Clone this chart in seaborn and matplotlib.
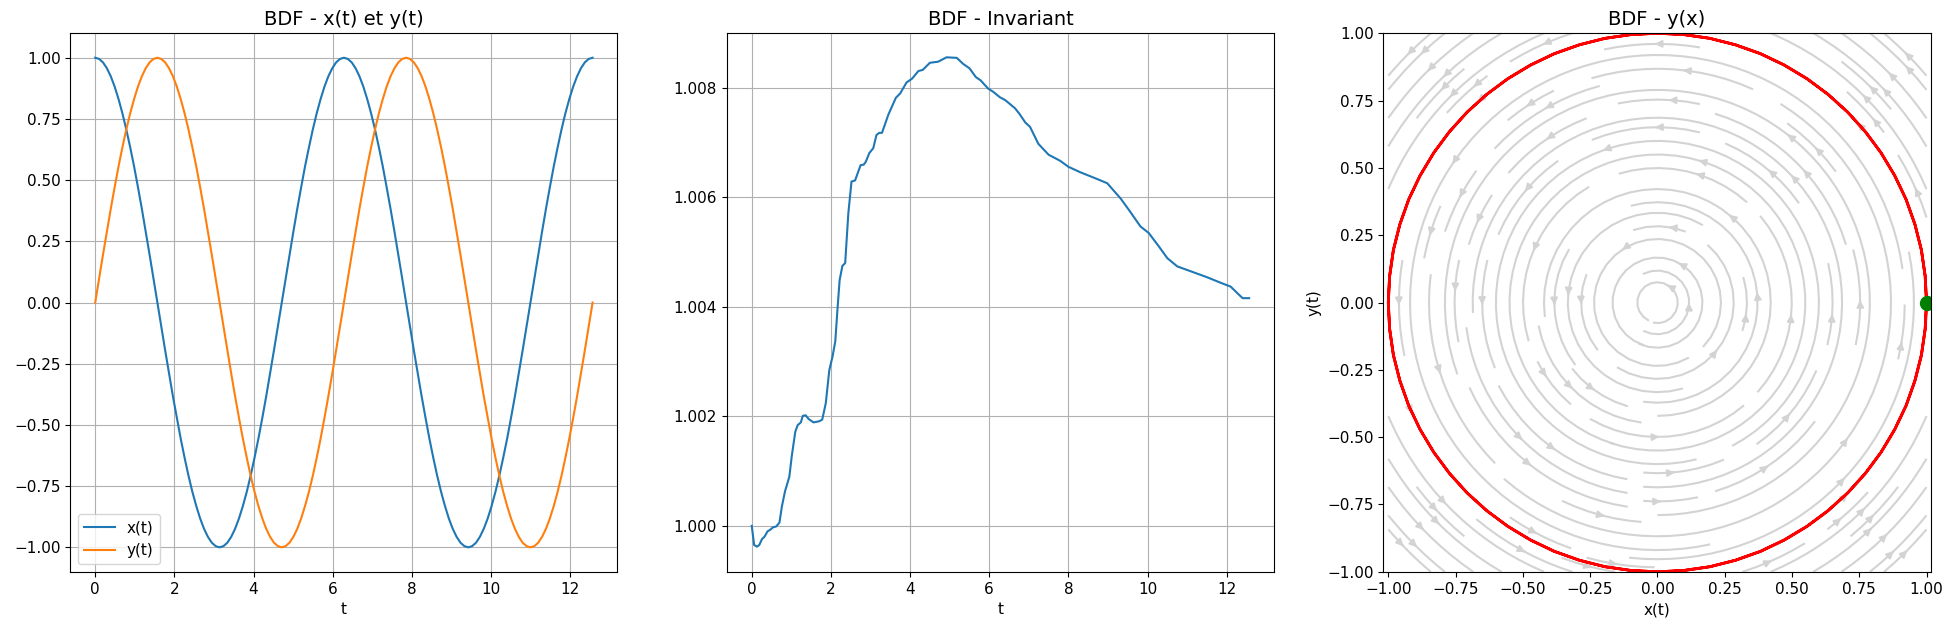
import numpy as np
import seaborn as sns
import matplotlib
matplotlib.use("Agg")
import matplotlib.pyplot as plt

# solution BDF : temps, x(t), y(t)
t_vals = [0.000, 0.098, 0.196, 0.295, 0.393, 0.491, 0.589, 0.687, 0.785, 0.884, 0.982, 1.080,
          1.178, 1.276, 1.374, 1.473, 1.571, 1.669, 1.767, 1.865, 1.963, 2.062, 2.160, 2.258,
          2.356, 2.454, 2.553, 2.651, 2.749, 2.847, 2.945, 3.043, 3.142, 3.240, 3.338, 3.436,
          3.534, 3.632, 3.731, 3.829, 3.927, 4.025, 4.123, 4.222, 4.320, 4.418, 4.516, 4.614,
          4.712, 4.811, 4.909, 5.007, 5.105, 5.203, 5.301, 5.400, 5.498, 5.596, 5.694, 5.792,
          5.890, 5.989, 6.087, 6.185, 6.283, 6.381, 6.480, 6.578, 6.676, 6.774, 6.872, 6.970,
          7.069, 7.167, 7.265, 7.363, 7.461, 7.560, 7.658, 7.756, 7.854, 7.952, 8.050, 8.149,
          8.247, 8.345, 8.443, 8.541, 8.639, 8.738, 8.836, 8.934, 9.032, 9.130, 9.228, 9.327,
          9.425, 9.523, 9.621, 9.719, 9.817, 9.916, 10.014, 10.112, 10.210, 10.308, 10.407,
          10.505, 10.603, 10.701, 10.799, 10.897, 10.996, 11.094, 11.192, 11.290, 11.388,
          11.486, 11.585, 11.683, 11.781, 11.879, 11.977, 12.076, 12.174, 12.272, 12.370,
          12.468, 12.566]
x_vals = [1.0, 0.995, 0.981, 0.957, 0.924, 0.882, 0.831, 0.773, 0.707, 0.634, 0.556, 0.471,
          0.383, 0.290, 0.195, 0.098, 0.0, -0.098, -0.195, -0.290, -0.383, -0.471, -0.556,
          -0.634, -0.707, -0.773, -0.831, -0.882, -0.924, -0.957, -0.981, -0.995,
          -1.0, -0.995, -0.981, -0.957, -0.924, -0.882, -0.831, -0.773, -0.707, -0.634, -0.556,
          -0.471, -0.383, -0.290, -0.195, -0.098, 0.0, 0.098, 0.195, 0.290, 0.383, 0.471,
          0.556, 0.634, 0.707, 0.773, 0.831, 0.882, 0.924, 0.957, 0.981, 0.995,
          1.0, 0.995, 0.981, 0.957, 0.924, 0.882, 0.831, 0.773, 0.707, 0.634, 0.556, 0.471,
          0.383, 0.290, 0.195, 0.098, 0.0, -0.098, -0.195, -0.290, -0.383, -0.471, -0.556,
          -0.634, -0.707, -0.773, -0.831, -0.882, -0.924, -0.957, -0.981, -0.995,
          -1.0, -0.995, -0.981, -0.957, -0.924, -0.882, -0.831, -0.773, -0.707, -0.634, -0.556,
          -0.471, -0.383, -0.290, -0.195, -0.098, 0.0, 0.098, 0.195, 0.290, 0.383, 0.471,
          0.556, 0.634, 0.707, 0.773, 0.831, 0.882, 0.924, 0.957, 0.981, 0.995, 1.0]
y_vals = [0.0, 0.098, 0.195, 0.290, 0.383, 0.471, 0.556, 0.634, 0.707, 0.773, 0.831, 0.882,
          0.924, 0.957, 0.981, 0.995, 1.0, 0.995, 0.981, 0.957, 0.924, 0.882, 0.831, 0.773,
          0.707, 0.634, 0.556, 0.471, 0.383, 0.290, 0.195, 0.098,
          0.0, -0.098, -0.195, -0.290, -0.383, -0.471, -0.556, -0.634, -0.707, -0.773, -0.831,
          -0.882, -0.924, -0.957, -0.981, -0.995, -1.0, -0.995, -0.981, -0.957, -0.924, -0.882,
          -0.831, -0.773, -0.707, -0.634, -0.556, -0.471, -0.383, -0.290, -0.195, -0.098,
          0.0, 0.098, 0.195, 0.290, 0.383, 0.471, 0.556, 0.634, 0.707, 0.773, 0.831, 0.882,
          0.924, 0.957, 0.981, 0.995, 1.0, 0.995, 0.981, 0.957, 0.924, 0.882, 0.831, 0.773,
          0.707, 0.634, 0.556, 0.471, 0.383, 0.290, 0.195, 0.098,
          0.0, -0.098, -0.195, -0.290, -0.383, -0.471, -0.556, -0.634, -0.707, -0.773, -0.831,
          -0.882, -0.924, -0.957, -0.981, -0.995, -1.0, -0.995, -0.981, -0.957, -0.924, -0.882,
          -0.831, -0.773, -0.707, -0.634, -0.556, -0.471, -0.383, -0.290, -0.195, -0.098, 0.0]

# invariant le long de la solution
t_inv = [0.0, 0.06, 0.13, 0.19, 0.26, 0.32, 0.40, 0.47, 0.53, 0.62, 0.70, 0.76, 0.84, 0.95,
         1.01, 1.10, 1.16, 1.24, 1.29, 1.36, 1.44, 1.56, 1.70, 1.78, 1.87, 1.96, 2.04, 2.11,
         2.16, 2.22, 2.29, 2.36, 2.44, 2.52, 2.61, 2.75, 2.83, 2.88, 2.97, 3.07, 3.15, 3.22,
         3.29, 3.45, 3.64, 3.75, 3.91, 4.05, 4.21, 4.32, 4.50, 4.71, 4.92, 5.18, 5.34, 5.50,
         5.66, 5.78, 5.97, 6.10, 6.27, 6.40, 6.65, 6.76, 6.91, 7.03, 7.24, 7.50, 7.79, 8.00,
         8.30, 8.68, 8.98, 9.32, 9.53, 9.82, 10.03, 10.29, 10.50, 10.75, 11.17, 11.51, 11.85,
         12.10, 12.27, 12.40, 12.566]
inv_vals = [1.00000, 0.99965, 0.99962, 0.99965, 0.99976, 0.99980, 0.99990, 0.99993, 0.99997,
            0.99999, 1.00006, 1.00035, 1.00063, 1.00090, 1.00127, 1.00172, 1.00184, 1.00189,
            1.00201, 1.00202, 1.00195, 1.00189, 1.00191, 1.00194, 1.00224, 1.00285, 1.00309,
            1.00337, 1.00390, 1.00449, 1.00475, 1.00480, 1.00571, 1.00629, 1.00631, 1.00659,
            1.00660, 1.00665, 1.00681, 1.00690, 1.00714, 1.00718, 1.00718, 1.00751, 1.00782,
            1.00790, 1.00810, 1.00817, 1.00831, 1.00833, 1.00846, 1.00848, 1.00856, 1.00855,
            1.00844, 1.00836, 1.00820, 1.00814, 1.00799, 1.00793, 1.00783, 1.00778, 1.00763,
            1.00753, 1.00737, 1.00729, 1.00698, 1.00678, 1.00667, 1.00656, 1.00646, 1.00635,
            1.00626, 1.00598, 1.00577, 1.00547, 1.00535, 1.00510, 1.00489, 1.00474, 1.00463,
            1.00454, 1.00444, 1.00437, 1.00425, 1.00416, 1.00416]

x0, y0 = 1.0, 0.0

plt.rcParams['font.size'] = 11
plt.rcParams['axes.titlesize'] = 14

fig, axes = plt.subplots(1, 3, figsize=(19.54, 6.27), dpi=100)
fig.subplots_adjust(left=0.036, right=0.988, bottom=0.088, top=0.947, wspace=0.2)

# x(t) et y(t)
ax = axes[0]
sns.lineplot(x=t_vals, y=x_vals, ax=ax, label='x(t)', color='C0', estimator=None, sort=False)
sns.lineplot(x=t_vals, y=y_vals, ax=ax, label='y(t)', color='C1', estimator=None, sort=False)
ax.set_title('BDF - x(t) et y(t)')
ax.set_xlabel('t')
ax.grid(True)
ax.legend(loc='lower left')

# invariant
ax = axes[1]
sns.lineplot(x=t_inv, y=inv_vals, ax=ax, color='C0', estimator=None, sort=False)
ax.set_title('BDF - Invariant')
ax.set_xlabel('t')
ax.set_ylim(0.99916, 1.0090)
ax.grid(True)

# portrait de phase
ax = axes[2]
gx, gy = np.meshgrid(np.linspace(-1, 1, 20), np.linspace(-1, 1, 20))
ax.streamplot(gx, gy, -gy, gx, color='lightgray', linewidth=1.5, density=1.3)
sns.lineplot(x=x_vals, y=y_vals, ax=ax, color='red', linewidth=2, estimator=None, sort=False)
ax.plot([x0], [y0], 'o', color='green', markersize=10)
ax.set_xlim(-1.018, 1.015)
ax.set_ylim(-1, 1)
ax.set_title('BDF - y(x)')
ax.set_xlabel('x(t)')
ax.set_ylabel('y(t)')

fig.savefig('out.png')
